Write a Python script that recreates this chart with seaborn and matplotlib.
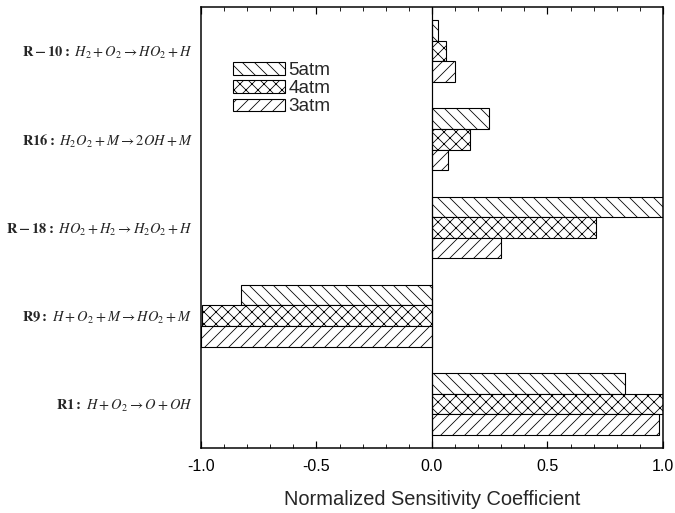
import matplotlib
matplotlib.use("Agg")
import matplotlib.pyplot as plt
from matplotlib.ticker import MultipleLocator
import seaborn as sns
import pandas as pd

reactions = [
    r"$\mathbf{R-10:}\ H_2+O_2\rightarrow HO_2+H$",
    r"$\mathbf{R16:}\ H_2O_2+M\rightarrow 2OH+M$",
    r"$\mathbf{R-18:}\ HO_2+H_2\rightarrow H_2O_2+H$",
    r"$\mathbf{R9:}\ H+O_2+M\rightarrow HO_2+M$",
    r"$\mathbf{R1:}\ H+O_2\rightarrow O+OH$",
]
pressures = ["5atm", "4atm", "3atm"]
values_5atm = [0.027, 0.245, 1.0, -0.827, 0.837]
values_4atm = [0.06, 0.164, 0.71, -0.996, 1.0]
values_3atm = [0.098, 0.071, 0.297, -1.0, 0.984]
hatches = ["\\\\", "xx", "//"]
xticks = [-1.0, -0.5, 0.0, 0.5, 1.0]

rows = []
for p, vals in zip(pressures, [values_5atm, values_4atm, values_3atm]):
    for r, v in zip(reactions, vals):
        rows.append({"reaction": r, "value": v, "pressure": p})
df = pd.DataFrame(rows)

sns.set_style("white")
plt.rcParams["font.family"] = ["Liberation Sans", "DejaVu Sans"]
plt.rcParams["mathtext.fontset"] = "stix"
plt.rcParams["hatch.linewidth"] = 0.8
plt.rcParams["hatch.color"] = "black"

fig = plt.figure(figsize=(675 / 72, 513 / 72), dpi=72)
ax = fig.add_axes([201 / 675, 65 / 513, 462 / 675, 441 / 513])

sns.barplot(data=df, y="reaction", x="value", hue="pressure", hue_order=pressures,
            order=reactions, orient="h", width=0.7, palette=["white"] * 3,
            saturation=1, edgecolor="black", linewidth=1.1, legend=False, ax=ax)

for cont, h in zip(ax.containers, hatches):
    for patch in cont.patches:
        patch.set_hatch(h)
        patch.set_edgecolor("black")

ax.axvline(0, color="black", lw=1.2, zorder=3)
ax.set_xlim(-1.0, 1.0)
ax.set_ylim(4.5, -0.5)
ax.set_xticks(xticks)
ax.set_xticklabels([f"{t:.1f}" for t in xticks])
ax.xaxis.set_minor_locator(MultipleLocator(0.1))
ax.tick_params(axis="x", which="major", direction="in", length=7, width=1.2,
               top=True, bottom=True, labelsize=16, pad=11, colors="black")
ax.tick_params(axis="x", which="minor", direction="in", length=4, width=1.0,
               top=True, bottom=True)
ax.tick_params(axis="y", left=False, labelsize=14.5, pad=5)
ax.set_xlabel("Normalized Sensitivity Coefficient", fontsize=20, labelpad=16)
ax.set_ylabel("")
for sp in ax.spines.values():
    sp.set_visible(True)
    sp.set_color("black")
    sp.set_linewidth(1.5)

leg = ax.legend(ax.containers, pressures, loc="upper left",
                bbox_to_anchor=(0.07, 0.875), frameon=False, fontsize=19,
                handlelength=2.7, handleheight=0.62, labelspacing=0.06,
                handletextpad=0.2, borderpad=0, borderaxespad=0)

fig.savefig("out.png", dpi=72)
